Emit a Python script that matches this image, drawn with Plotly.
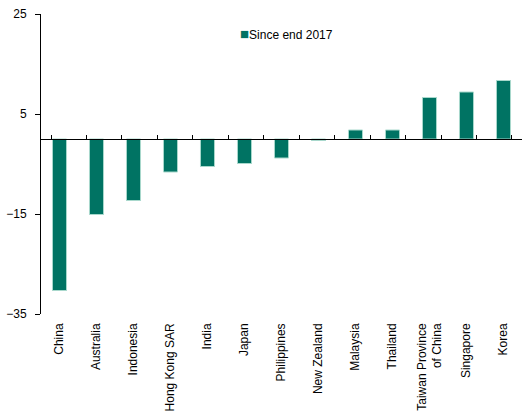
import plotly.graph_objects as go

categories = ["China", "Australia", "Indonesia", "Hong Kong SAR", "India", "Japan",
              "Philippines", "New Zealand", "Malaysia", "Thailand",
              "Taiwan Province<br>of China", "Singapore", "Korea"]
since_end_2017 = [-30.3, -15.1, -12.3, -6.6, -5.5, -4.9, -3.8, -0.3, 1.8, 1.8, 8.3, 9.4, 11.7]
series_name = "Since end 2017"
y_ticks = [-35, -15, 5, 25]
bar_color = "#007363"

fnt = dict(family="Liberation Sans, Arial, sans-serif", size=12, color="#000000")

fig = go.Figure()
fig.add_trace(go.Bar(
    x=categories, y=since_end_2017, name=series_name,
    marker=dict(color=bar_color, line=dict(color="#a8d8cc", width=1)),
    xaxis="x", yaxis="y", showlegend=False,
))
# dummy trace for the zero-line axis (ticks at boundaries)
fig.add_trace(go.Scatter(
    x=categories, y=[None] * len(categories), xaxis="x2", yaxis="y",
    mode="markers", showlegend=False, hoverinfo="skip",
))

y0, y1 = -35, 25
zero_pos = (0 - y0) / (y1 - y0)

# legend drawn as a text entry with a coloured square
fig.add_annotation(
    xref="paper", yref="paper", x=(238 - 41) / 481, y=(314 - 33) / 300,
    xanchor="left", yanchor="middle", showarrow=False,
    text=f"<span style='color:{bar_color}; font-size:15px'>■</span>{series_name}",
    font=fnt,
)

fig.update_layout(
    width=527, height=413,
    margin=dict(l=41, r=5, t=14, b=99, autoexpand=False),
    paper_bgcolor="white", plot_bgcolor="white",
    font=fnt,
    bargap=0.62,
    showlegend=False,
    xaxis=dict(type="category", categoryorder="array", categoryarray=categories,
               showline=False, ticks="", showgrid=False, zeroline=False,
               tickangle=-90, tickfont=fnt, ticklabelstandoff=6, automargin=False),
    xaxis2=dict(type="category", categoryorder="array", categoryarray=categories,
                overlaying="x", anchor="free", position=zero_pos, side="bottom",
                showline=True, linecolor="#000000", linewidth=1,
                ticks="inside", ticklen=4, tickcolor="#000000", tickwidth=1,
                tickson="boundaries", showticklabels=False, showgrid=False,
                zeroline=False, automargin=False),
    yaxis=dict(range=[y0, y1], tickvals=y_ticks, showline=True, linecolor="#000000",
               linewidth=1, ticks="outside", ticklen=5, tickcolor="#000000",
               showgrid=False, zeroline=False, tickfont=fnt, ticklabelstandoff=6,
               automargin=False),
)

# remove the browser's default 8px page margin so the figure sits at the window's corner
fig.write_html("out.html", config={"displayModeBar": False},
               post_script="document.body.style.margin='0';")
